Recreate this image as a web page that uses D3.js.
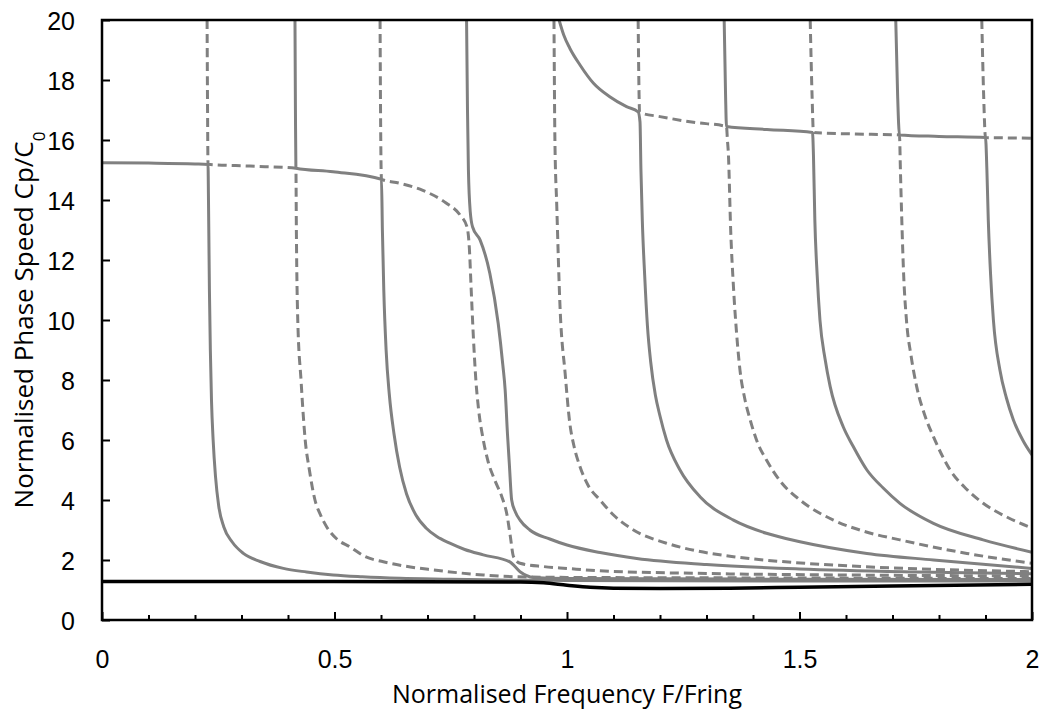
<!DOCTYPE html>
<html>
<head>
<meta charset="utf-8">
<script src="https://cdn.jsdelivr.net/npm/d3@7"></script>
<style>
  html, body { margin: 0; padding: 0; background: #fff; }
  svg { display: block; font-family: "Open Sans", Lato, sans-serif; }
</style>
</head>
<body>
<svg id="chart" width="1046" height="713"></svg>
<script>
// tick values
const xMajorTicks = [0, 0.5, 1, 1.5, 2];
const xMinorTicks = [0.1, 0.2, 0.3, 0.4, 0.6, 0.7, 0.8, 0.9, 1.1, 1.2, 1.3, 1.4, 1.6, 1.7, 1.8, 1.9];
const yTicks = [0, 2, 4, 6, 8, 10, 12, 14, 16, 18, 20];

// lower plateau branches (x < 1)
const branchQ0 = [[0,15.24],[0.1,15.23],[0.2,15.2],[0.228,15.18],[0.229,14],[0.231,11],[0.233,9],[0.2355,7.3],[0.239,6],[0.244,4.8],[0.251,3.8],[0.262,3.1],[0.28,2.6],[0.304,2.22],[0.34,1.95],[0.39,1.72],[0.44,1.6],[0.497,1.5],[0.56,1.44],[0.641,1.39],[0.75,1.36],[0.856,1.33],[1.0,1.32],[1.5,1.3],[2.0,1.3]];
const branchQ1 = [[0.226,20],[0.227,17],[0.228,15.19],[0.318,15.13],[0.417,15.06],[0.418,13],[0.421,10],[0.428,8],[0.437,6],[0.446,5],[0.458,4.0],[0.47,3.5],[0.483,3.11],[0.505,2.7],[0.533,2.44],[0.565,2.12],[0.605,1.94],[0.65,1.8],[0.712,1.67],[0.82,1.5],[0.892,1.44],[1.0,1.42],[1.5,1.4],[2.0,1.38]];
const branchQ2 = [[0.415,20],[0.416,17],[0.417,15.06],[0.497,14.94],[0.601,14.69],[0.603,13],[0.606,11],[0.611,9],[0.618,7.5],[0.628,6.2],[0.64,5.1],[0.655,4.2],[0.675,3.5],[0.698,3.05],[0.72,2.78],[0.748,2.56],[0.78,2.35],[0.82,2.17],[0.877,1.94],[0.899,1.61],[0.928,1.42],[1.0,1.38],[1.5,1.36],[2.0,1.35]];
const branchQ3 = [[0.598,20],[0.599,17],[0.601,14.69],[0.64,14.56],[0.69,14.32],[0.74,13.9],[0.77,13.5],[0.785,13.1],[0.79,12.4],[0.794,11],[0.799,9.33],[0.804,8],[0.81,7.0],[0.82,6.0],[0.83,5.3],[0.845,4.65],[0.86,4.1],[0.871,3.5],[0.878,2.8],[0.885,2.11],[0.899,1.89],[0.95,1.78],[1.0,1.72],[1.071,1.64],[1.3,1.55],[1.6,1.5],[2.0,1.47]];
const branchQ4 = [[0.784,20],[0.786,17],[0.788,15],[0.792,13.6],[0.797,13.1],[0.813,12.67],[0.834,11.56],[0.852,9.89],[0.862,8.5],[0.867,7.67],[0.872,6.2],[0.876,5.2],[0.881,4.0],[0.889,3.6],[0.899,3.33],[0.92,3.0],[0.963,2.7],[1.0,2.5],[1.071,2.25],[1.15,2.05],[1.3,1.85],[1.5,1.7],[1.75,1.6],[2.0,1.54]];
const branchD4 = [[0.972,20],[0.974,16],[0.978,13.8],[0.985,10.44],[0.996,8.22],[1.006,6.56],[1.015,5.8],[1.028,5.11],[1.045,4.5],[1.071,4.0],[1.1,3.5],[1.143,3.0],[1.214,2.56],[1.28,2.3],[1.358,2.11],[1.46,1.95],[1.573,1.83],[1.788,1.69],[2.0,1.61]];

// upper plateau branches (x > 1)
const branchP1 = [[0.983,20],[0.993,19.5],[1.006,19.06],[1.028,18.5],[1.057,17.89],[1.092,17.44],[1.128,17.11],[1.153,16.94],[1.157,16.6],[1.159,15],[1.162,13.3],[1.167,11.5],[1.173,9.8],[1.18,8.6],[1.19,7.5],[1.2,6.8],[1.214,6.0],[1.243,5.0],[1.286,4.11],[1.358,3.33],[1.429,2.89],[1.501,2.61],[1.645,2.22],[1.788,2.0],[2.0,1.72]];
const branchP2 = [[1.153,20],[1.155,17.5],[1.156,16.92],[1.2,16.78],[1.272,16.59],[1.343,16.45],[1.345,16],[1.347,15.56],[1.352,13],[1.358,11.1],[1.365,9.5],[1.372,8.33],[1.382,7.4],[1.394,6.67],[1.41,5.9],[1.429,5.33],[1.46,4.6],[1.501,4.0],[1.573,3.33],[1.64,2.95],[1.716,2.67],[1.86,2.22],[2.0,1.89]];
const branchP3 = [[1.338,20],[1.341,17.5],[1.343,16.45],[1.43,16.35],[1.528,16.25],[1.53,15.5],[1.533,13.33],[1.538,11.5],[1.544,10],[1.555,8.7],[1.566,7.78],[1.594,6.44],[1.615,5.8],[1.645,5.0],[1.68,4.4],[1.716,3.89],[1.788,3.22],[1.895,2.67],[2.0,2.26]];
const branchP4 = [[1.523,20],[1.527,17.5],[1.53,16.25],[1.62,16.2],[1.715,16.17],[1.717,15],[1.72,13.33],[1.724,11.5],[1.73,10],[1.74,8.8],[1.752,7.78],[1.77,6.8],[1.788,6.11],[1.824,5.0],[1.86,4.35],[1.895,3.89],[1.95,3.4],[2.0,3.06]];
const branchP5 = [[1.707,20],[1.711,17.5],[1.715,16.17],[1.8,16.12],[1.9,16.08],[1.903,15],[1.906,13.33],[1.911,11.5],[1.917,10],[1.931,8.33],[1.945,7.4],[1.96,6.67],[1.98,6.0],[2.0,5.5]];
const branchP6 = [[1.892,20],[1.896,17.5],[1.9,16.08],[1.95,16.07],[2.0,16.06]];

// fundamental mode (black)
const fundamental = [[0,1.28],[0.5,1.28],[0.9,1.27],[0.95,1.24],[1.0,1.16],[1.05,1.09],[1.1,1.06],[1.2,1.05],[1.35,1.06],[1.5,1.09],[1.7,1.13],[2.0,1.19]];

const solidBranches = [branchQ0, branchQ2, branchQ4, branchP1, branchP3, branchP5];
const dashedBranches = [branchQ1, branchQ3, branchD4, branchP2, branchP4, branchP6];

const svg = d3.select('#chart');
const margin = { left: 102, right: 14, top: 20, bottom: 93 };
const W = 1046, H = 713;
const innerW = W - margin.left - margin.right;
const innerH = H - margin.top - margin.bottom;

const x = d3.scaleLinear().domain([0, 2]).range([margin.left, W - margin.right]);
const y = d3.scaleLinear().domain([0, 20]).range([H - margin.bottom, margin.top]);

svg.append('defs').append('clipPath').attr('id', 'plot-clip')
  .append('rect')
  .attr('x', margin.left).attr('y', margin.top)
  .attr('width', innerW).attr('height', innerH);

const line = d3.line()
  .x(d => x(d[0]))
  .y(d => y(d[1]))
  .curve(d3.curveMonotoneX);

const plot = svg.append('g').attr('clip-path', 'url(#plot-clip)');

// gray branches
plot.selectAll('.solid')
  .data(solidBranches)
  .enter()
  .append('path')
  .attr('class', 'solid')
  .attr('d', line)
  .attr('fill', 'none')
  .attr('stroke', '#808080')
  .attr('stroke-width', 3);

plot.selectAll('.dashed')
  .data(dashedBranches)
  .enter()
  .append('path')
  .attr('class', 'dashed')
  .attr('d', line)
  .attr('fill', 'none')
  .attr('stroke', '#808080')
  .attr('stroke-width', 3)
  .attr('stroke-dasharray', '9,5');

// black line on top
plot.append('path')
  .datum(fundamental)
  .attr('d', line)
  .attr('fill', 'none')
  .attr('stroke', '#000')
  .attr('stroke-width', 3.5);

// axes
const yAxis = svg.append('g')
  .attr('transform', `translate(${margin.left},0)`)
  .call(d3.axisLeft(y).tickValues(yTicks).tickSize(-8).tickSizeOuter(0).tickPadding(27));

const xAxis = svg.append('g')
  .attr('transform', `translate(0,${H - margin.bottom})`)
  .call(d3.axisBottom(x).tickValues(xMajorTicks).tickFormat(d3.format('')).tickSize(-8).tickSizeOuter(0));

svg.append('g')
  .attr('transform', `translate(0,${H - margin.bottom})`)
  .call(d3.axisBottom(x).tickValues(xMinorTicks).tickFormat('').tickSize(-5).tickSizeOuter(0))
  .call(g => g.select('.domain').remove());

[yAxis, xAxis].forEach(g => {
  g.select('.domain').remove();
  g.selectAll('text').attr('fill', '#000').style('font-size', '25px');
});
svg.selectAll('.tick line').attr('stroke', '#000').attr('stroke-width', 2);

xAxis.selectAll('text').attr('y', 48).attr('dy', null);
yAxis.selectAll('text').attr('dy', '0.36em');

// frame
svg.append('rect')
  .attr('x', margin.left).attr('y', margin.top)
  .attr('width', innerW).attr('height', innerH)
  .attr('fill', 'none')
  .attr('stroke', '#000')
  .attr('stroke-width', 2.5);

// axis titles
svg.append('text')
  .attr('x', margin.left + innerW / 2)
  .attr('y', 703)
  .attr('text-anchor', 'middle')
  .style('font-size', '25px')
  .text('Normalised Frequency F/Fring');

const yTitle = svg.append('text')
  .attr('transform', `translate(33,${margin.top + innerH / 2}) rotate(-90)`)
  .attr('text-anchor', 'middle')
  .style('font-size', '26px');
yTitle.append('tspan').text('Normalised Phase Speed Cp/C');
yTitle.append('tspan').attr('baseline-shift', 'sub').style('font-size', '17px').text('0');
</script>
</body>
</html>
